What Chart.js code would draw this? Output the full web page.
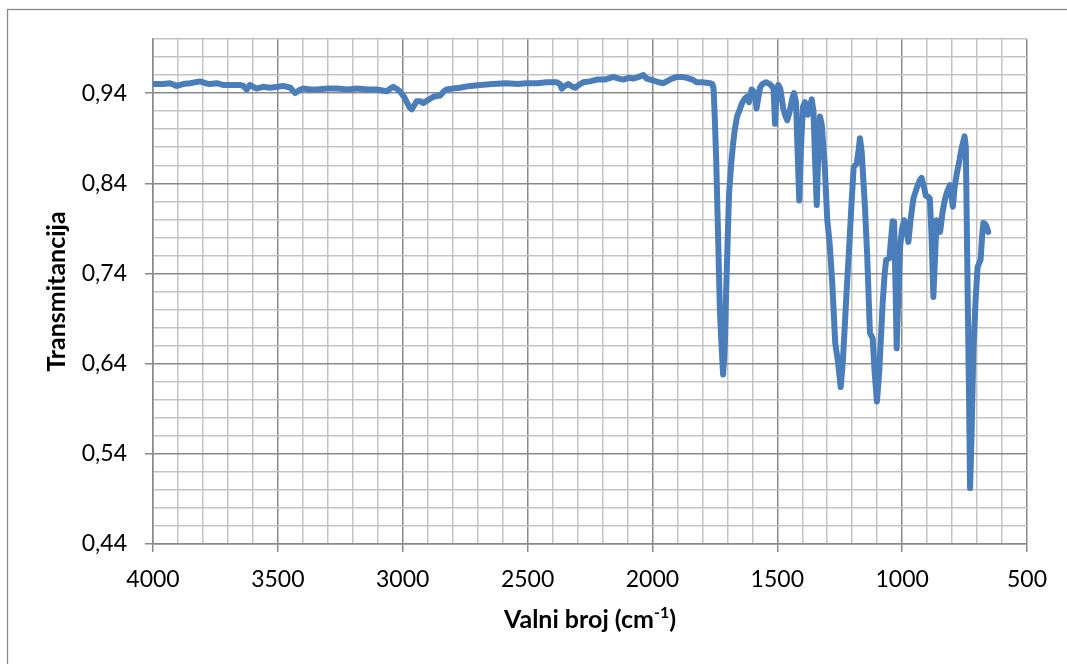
<!DOCTYPE html>
<html>
<head>
<meta charset="utf-8">
<script src="https://cdn.jsdelivr.net/npm/chart.js@4/dist/chart.umd.min.js"></script>
<style>
  html, body { margin: 0; padding: 0; background: #ffffff; }
  #wrap { width: 1067px; height: 664px; position: relative; }
</style>
</head>
<body>
<div id="wrap"><canvas id="c" width="1067" height="664"></canvas></div>
<script>
// Wavenumbers (cm-1), descending
const wavenumbers = [
  4000, 3960, 3932, 3905, 3880, 3852, 3812, 3790, 3772, 3745, 3720, 3692, 3652, 3638, 3625, 3612, 3585, 3560, 3532, 3500,
  3478, 3450, 3431, 3410, 3398, 3370, 3344, 3300, 3264, 3220, 3184, 3140, 3104, 3064, 3050, 3038, 3020, 3011, 2995, 2984,
  2972, 2964, 2955, 2944, 2930, 2917, 2900, 2877, 2860, 2851, 2835, 2824, 2800, 2771, 2730, 2690, 2640, 2584, 2540, 2504,
  2460, 2423, 2383, 2370, 2363, 2350, 2337, 2320, 2310, 2290, 2277, 2250, 2223, 2190, 2157, 2135, 2117, 2095, 2077, 2055,
  2036, 2023, 1996, 1975, 1956, 1930, 1903, 1880, 1863, 1840, 1823, 1800, 1770, 1760, 1755, 1750, 1745, 1738, 1730, 1725,
  1717, 1710, 1705, 1699, 1693, 1685, 1677, 1670, 1661, 1650, 1641, 1630, 1621, 1613, 1603, 1595, 1589, 1583, 1576, 1569,
  1560, 1545, 1530, 1523, 1515, 1509, 1503, 1496, 1488, 1476, 1468, 1460, 1450, 1440, 1433, 1425, 1418, 1412, 1405, 1397,
  1389, 1378, 1370, 1362, 1355, 1348, 1342, 1336, 1329, 1322, 1310, 1300, 1290, 1280, 1268, 1256, 1246, 1238, 1230, 1222,
  1212, 1202, 1194, 1182, 1175, 1169, 1162, 1149, 1140, 1129, 1118, 1110, 1101, 1092, 1078, 1070, 1064, 1051, 1044, 1038,
  1032, 1026, 1022, 1016, 1008, 1000, 992, 984, 975, 966, 955, 940, 930, 922, 912, 905, 895, 889, 882, 875,
  868, 862, 855, 848, 838, 828, 818, 808, 797, 790, 781, 770, 761, 750, 745, 738, 732, 728, 722, 715,
  706, 698, 686, 680, 675, 668, 662, 655
];
// Transmittance
const transmittance = [
  0.950, 0.950, 0.951, 0.948, 0.950, 0.951, 0.953, 0.951, 0.950, 0.951, 0.949, 0.949, 0.949, 0.948, 0.944, 0.949, 0.945, 0.947, 0.946, 0.947,
  0.948, 0.946, 0.940, 0.944, 0.945, 0.944, 0.944, 0.945, 0.945, 0.944, 0.945, 0.944, 0.944, 0.942, 0.945, 0.947, 0.944, 0.942, 0.936, 0.930,
  0.924, 0.922, 0.926, 0.931, 0.931, 0.929, 0.932, 0.936, 0.937, 0.937, 0.942, 0.944, 0.945, 0.946, 0.948, 0.949, 0.950, 0.951, 0.950, 0.951,
  0.951, 0.952, 0.952, 0.950, 0.945, 0.948, 0.950, 0.947, 0.946, 0.950, 0.952, 0.953, 0.955, 0.955, 0.958, 0.956, 0.955, 0.957, 0.956, 0.958,
  0.960, 0.956, 0.954, 0.952, 0.951, 0.955, 0.958, 0.958, 0.957, 0.955, 0.952, 0.952, 0.951, 0.950, 0.945, 0.910, 0.870, 0.792, 0.700, 0.670,
  0.628, 0.660, 0.718, 0.775, 0.829, 0.860, 0.884, 0.900, 0.914, 0.922, 0.929, 0.934, 0.936, 0.930, 0.944, 0.942, 0.940, 0.923, 0.935, 0.946,
  0.950, 0.952, 0.950, 0.948, 0.945, 0.906, 0.940, 0.949, 0.945, 0.923, 0.915, 0.910, 0.920, 0.934, 0.940, 0.930, 0.870, 0.821, 0.880, 0.925,
  0.930, 0.916, 0.925, 0.933, 0.920, 0.860, 0.816, 0.870, 0.914, 0.905, 0.860, 0.800, 0.772, 0.730, 0.663, 0.640, 0.614, 0.640, 0.680, 0.722,
  0.770, 0.821, 0.858, 0.862, 0.875, 0.890, 0.875, 0.814, 0.760, 0.674, 0.668, 0.630, 0.598, 0.630, 0.707, 0.740, 0.755, 0.757, 0.780, 0.798,
  0.797, 0.720, 0.657, 0.710, 0.770, 0.790, 0.799, 0.790, 0.775, 0.800, 0.823, 0.836, 0.843, 0.846, 0.835, 0.826, 0.825, 0.823, 0.780, 0.714,
  0.760, 0.799, 0.795, 0.786, 0.808, 0.823, 0.832, 0.838, 0.814, 0.835, 0.851, 0.866, 0.880, 0.892, 0.880, 0.725, 0.600, 0.502, 0.560, 0.652,
  0.710, 0.747, 0.755, 0.780, 0.796, 0.795, 0.792, 0.786
];

// Axis settings
const xMin = 500, xMax = 4000, xMinorStep = 100, xMajorStep = 500;
const yMin = 0.44, yMax = 1.00, yMinorStep = 0.02, yMajorStep = 0.10;

const MINOR = '#c3c3c3';
const MAJOR = '#898989';
const FONT = 'Lato, "Open Sans", sans-serif';

const points = wavenumbers.map((w, i) => ({ x: w, y: transmittance[i] }));

function isXMajor(v) { return Math.abs(v % xMajorStep) < 1e-6; }
function isYMajor(v) {
  const k = Math.round((v - yMin) / yMinorStep);
  return k % Math.round(yMajorStep / yMinorStep) === 0;
}

const framePlugin = {
  id: 'frame',
  beforeDraw(chart) {
    const ctx = chart.ctx;
    ctx.save();
    ctx.fillStyle = '#ffffff';
    ctx.fillRect(0, 0, chart.width, chart.height);
    ctx.strokeStyle = '#898989';
    ctx.lineWidth = 1.3;
    ctx.strokeRect(7.5, 9.5, chart.width + 20, chart.height + 20);
    ctx.restore();
  },
  afterDraw(chart) {
    // x-axis title with superscript
    const ctx = chart.ctx;
    const area = chart.chartArea;
    const cx = (area.left + area.right) / 2;
    const baseY = 628;
    const mainFont = 'bold 25px ' + FONT;
    const supFont = 'bold 16px ' + FONT;
    const p1 = 'Valni broj (cm', p2 = '-1', p3 = ')';
    ctx.save();
    ctx.fillStyle = '#000000';
    ctx.textBaseline = 'alphabetic';
    ctx.textAlign = 'left';
    ctx.font = mainFont;
    const w1 = ctx.measureText(p1).width, w3 = ctx.measureText(p3).width;
    ctx.font = supFont;
    const w2 = ctx.measureText(p2).width;
    let x = cx - (w1 + w2 + w3) / 2;
    ctx.font = mainFont; ctx.fillText(p1, x, baseY); x += w1;
    ctx.font = supFont; ctx.fillText(p2, x, baseY - 10); x += w2;
    ctx.font = mainFont; ctx.fillText(p3, x, baseY);
    ctx.restore();
  }
};

new Chart(document.getElementById('c'), {
  type: 'line',
  data: {
    datasets: [{
      data: points,
      borderColor: '#4A7EBB',
      borderWidth: 6,
      pointRadius: 0,
      tension: 0,
      borderJoinStyle: 'round',
      borderCapStyle: 'round',
      fill: false
    }]
  },
  options: {
    responsive: false,
    animation: false,
    devicePixelRatio: 1,
    layout: { padding: { left: 0, top: 39, right: 40, bottom: 0 } },
    plugins: { legend: { display: false }, tooltip: { enabled: false }, title: { display: false } },
    scales: {
      x: {
        type: 'linear',
        reverse: true,
        min: xMin,
        max: xMax,
        afterBuildTicks(axis) {
          const t = [];
          for (let v = xMin; v <= xMax + 1e-6; v += xMinorStep) t.push({ value: v });
          axis.ticks = t;
        },
        afterFit(axis) { axis.height = 120; },
        ticks: {
          autoSkip: false,
          maxRotation: 0,
          padding: 14,
          color: '#000000',
          font: { family: FONT, size: 23 },
          callback: (v) => isXMajor(v) ? String(v) : ''
        },
        grid: {
          color: (c) => (c.tick && isXMajor(c.tick.value)) ? MAJOR : MINOR,
          lineWidth: 1.5,
          tickLength: 8,
          tickColor: (c) => (c.tick && isXMajor(c.tick.value)) ? MAJOR : 'rgba(0,0,0,0)',
          tickWidth: 1.5
        },
        border: { color: MAJOR, width: 1.5 },
        title: { display: false }
      },
      y: {
        type: 'linear',
        min: yMin,
        max: yMax,
        afterBuildTicks(axis) {
          const t = [];
          const n = Math.round((yMax - yMin) / yMinorStep);
          for (let k = 0; k <= n; k++) t.push({ value: +(yMin + k * yMinorStep).toFixed(2) });
          axis.ticks = t;
        },
        afterFit(axis) { axis.width = 153; },
        ticks: {
          autoSkip: false,
          padding: 18,
          color: '#000000',
          font: { family: FONT, size: 23 },
          callback: (v) => isYMajor(v) ? v.toFixed(2).replace('.', ',') : ''
        },
        grid: {
          color: (c) => (c.tick && isYMajor(c.tick.value)) ? MAJOR : MINOR,
          lineWidth: 1.5,
          tickLength: 8,
          tickColor: (c) => (c.tick && isYMajor(c.tick.value)) ? MAJOR : 'rgba(0,0,0,0)',
          tickWidth: 1.5
        },
        border: { color: MAJOR, width: 1.5 },
        title: {
          display: true,
          text: 'Transmitancija',
          color: '#000000',
          font: { family: FONT, size: 25, weight: 'bold' },
          padding: { top: 42, bottom: 0 }
        }
      }
    }
  },
  plugins: [framePlugin]
});
</script>
</body>
</html>
